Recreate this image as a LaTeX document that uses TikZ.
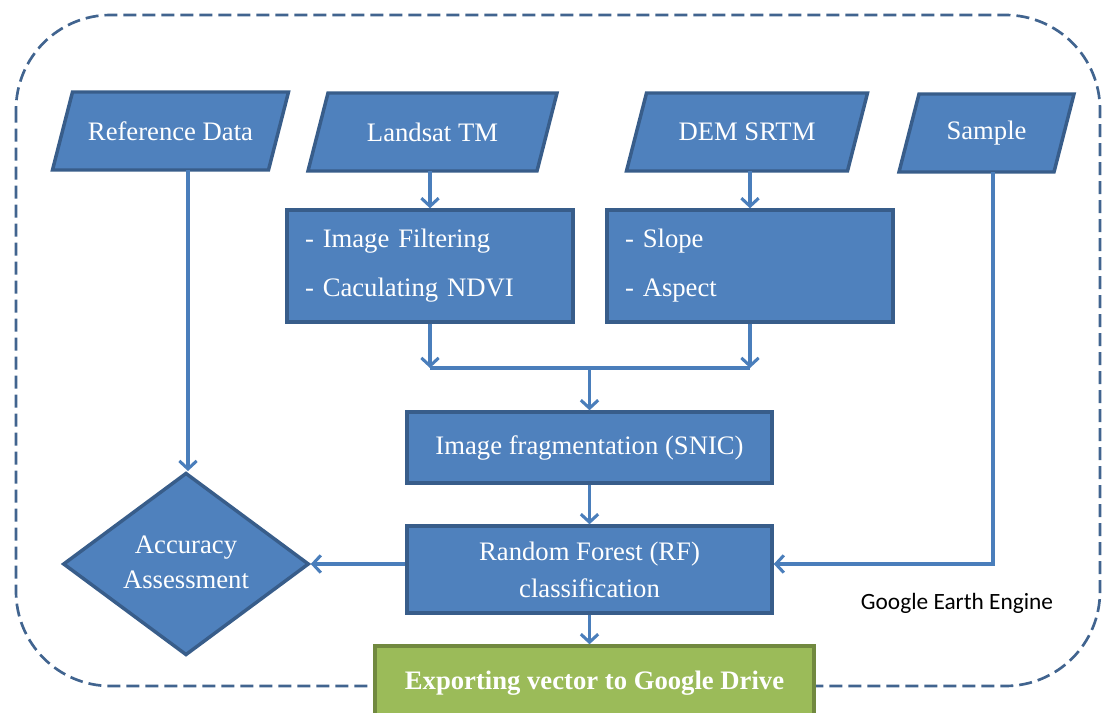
\documentclass[tikz,border=0pt]{standalone}
\usepackage{fontspec}
\setmainfont{Liberation Serif}
\newfontfamily\geefont{Carlito}
\usetikzlibrary{shapes.geometric,arrows.meta,calc}
\definecolor{boxfill}{HTML}{4F81BD}
\definecolor{boxedge}{HTML}{385D8A}
\definecolor{linkblue}{HTML}{4A7EBB}
\definecolor{framec}{HTML}{41648F}
\definecolor{greenfill}{HTML}{9BBB59}
\definecolor{greenedge}{HTML}{71893F}

% parallelogram data box: name, centre x, centre y, half side, label
\newcommand\databox[5]{%
  \draw[datashape] (#2-#4+10,#3-39) -- (#2+#4+10,#3-39) -- (#2+#4-10,#3+39) -- (#2-#4-10,#3+39) -- cycle;
  \node[datatext] (#1) at (#2,#3) {#5};
}

\begin{document}
\begin{tikzpicture}[x=0.75pt,y=-0.75pt,
  basefont/.style={font=\fontsize{20}{24}\selectfont},
  datashape/.style={draw=boxedge,fill=boxfill,line width=2.6pt,line join=miter},
  datatext/.style={basefont,text=white,inner sep=0pt,minimum height=58.5pt},
  proc/.style={draw=boxedge,fill=boxfill,line width=2.6pt,text=white,inner sep=0pt,basefont},
  listbox/.style={proc,minimum width=214.5pt,minimum height=84pt,text width=187.5pt,align=left,
    font=\fontsize{20}{36.75}\selectfont},
  export/.style={draw=greenedge,fill=greenfill,line width=2.6pt,text=white,inner sep=0pt,
    font=\fontsize{20}{24}\selectfont\bfseries,minimum width=329.25pt,minimum height=55.5pt},
  decision/.style={diamond,draw=boxedge,fill=boxfill,line width=2.6pt,text=white,inner sep=0pt,
    minimum width=184.5pt,minimum height=133.5pt,align=center,font=\fontsize{20}{26.25}\selectfont},
  link/.style={draw=linkblue,line width=2.3pt},
  arr/.style={link,-{Straight Barb[length=6pt,width=13pt,line width=2.3pt]}},
  frame/.style={draw=framec,line width=2pt,dash pattern=on 9.75pt off 4.5pt,rounded corners=71pt}
]
\useasboundingbox (0,0) rectangle (1102,713);
\clip (0,0) rectangle (1102,713);

% Google Earth Engine boundary
\draw[frame] (16,15) rectangle (1100,686);
\node[font=\geefont\fontsize{17.5}{20}\selectfont] (gee) at (957,603) {Google Earth Engine};

% input data
\databox{ref}{170.5}{131}{108}{Reference Data}
\databox{lsat}{432.5}{132}{114.5}{Landsat TM}
\databox{dem}{747}{132}{110.5}{DEM SRTM}
\databox{smp}{986.5}{133}{77.5}{Sample}

% processing steps
\node[listbox] (filt) at (430,266) {- Image Filtering\\- Caculating NDVI};
\node[listbox] (topo) at (750,266) {- Slope\\- Aspect};
\node[proc,minimum width=273.75pt,minimum height=53.25pt] (snic) at (589.5,447.5) {Image fragmentation (SNIC)};
\node[proc,minimum width=273.75pt,minimum height=65.25pt,align=center,font=\fontsize{20}{27.75}\selectfont] (rf) at (589.5,569.5) {Random Forest (RF)\\classification};
\node[decision] (acc) at (186,564) {\raisebox{3pt}{Accuracy}\\\raisebox{3pt}{Assessment}};
\node[export] (exp) at (594.5,683) {Exporting vector to Google Drive};

% connectors
\coordinate (refout) at (188,170);
\coordinate (smpout) at (993,172);
\coordinate (jn) at (589.5,368);
\draw[arr] (refout) -- (refout |- acc.north);
\draw[arr] (filt.north |- lsat.south) -- (filt.north);
\draw[arr] (topo.north |- dem.south) -- (topo.north);
\draw[arr] (filt.south) -- (filt.south |- jn);
\draw[arr] (topo.south) -- (topo.south |- jn);
\draw[link] (filt.south |- jn) -- (topo.south |- jn);
\draw[arr] (jn) -- (snic.north);
\draw[arr] (snic.south) -- (rf.north);
\draw[arr] (rf.south) -- (rf.south |- exp.north);
\draw[arr] (rf.west |- acc.east) -- (acc.east);
\draw[arr] (smpout) |- (rf.east |- acc.east);
\end{tikzpicture}
\end{document}
